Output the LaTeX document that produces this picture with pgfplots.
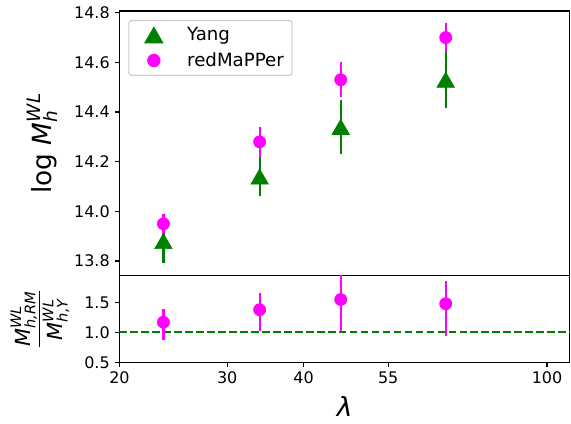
\documentclass[border=0pt]{standalone}
\usepackage{fontspec}
\setmainfont{DejaVu Sans}
\usepackage{amsmath}
\usepackage{pgfplots}
\pgfplotsset{compat=1.18}
\definecolor{mgreen}{HTML}{008000}
\definecolor{mmag}{HTML}{FF00FF}
\newcommand{\mi}[1]{\text{\textit{#1}}}

\pgfplotstableread{
x y e
23.6 13.88 0.09
33.9 14.14 0.08
46.0 14.34 0.11
68.3 14.53 0.115
}\yangtab
\pgfplotstableread{
x y e
23.6 13.95 0.04
33.9 14.28 0.06
46.0 14.53 0.07
68.3 14.70 0.06
}\rmtab
\pgfplotstableread{
x y ep em
23.6 1.17 0.23 0.29
33.9 1.38 0.28 0.35
46.0 1.55 0.45 0.54
68.3 1.48 0.38 0.54
}\ratiotab

\begin{document}
\begin{tikzpicture}
\path[use as bounding box] (-86pt,-106.8pt) rectangle (325.2pt,198.5pt);
\begin{axis}[
  scale only axis, width=324.4pt,
  xmode=log, xmin=20, xmax=109,
  axis line style={line width=0.8pt},
  tick style={line width=0.8pt, black},
  major tick length=3.5pt,
  tick align=outside,
  xminorticks=false, yminorticks=false,
  tick label style={font=\fontsize{11.5}{13}\selectfont},
  /pgf/number format/assume math mode=true,
  yticklabel style={/pgf/number format/.cd, fixed, fixed zerofill, precision=1},
  ytick pos=left,
  name=top, at={(0,0)}, anchor=south west,
  height=190.6pt,
  ymin=13.741, ymax=14.807,
  xtick=\empty,
  ytick={13.8,14,14.2,14.4,14.6,14.8},
  ylabel={log \(\mi{M}^{\mi{WL}}_{\mi{h}}\)},
  every axis y label/.style={at={([xshift=-55.6pt]axis description cs:0,0.5)}, rotate=90, anchor=center, font=\fontsize{19}{22}\selectfont},
  legend style={at={(axis description cs:0.0197,0.966)}, anchor=north west,
    draw=black!20, rounded corners=2pt, line width=0.8pt,
    font=\fontsize{13.1}{15}\selectfont,
    inner xsep=3pt, inner ysep=2pt, row sep=1pt,
    nodes={inner sep=3pt},
    /tikz/every odd column/.append style={column sep=6pt}},
  legend cell align=left,
  legend image code/.code={\path[draw=none, fill=none] (0pt,-7pt) rectangle (30pt,7pt); \draw[#1, only marks] plot coordinates {(15pt,0pt)};},
]
\addplot[only marks, mark=triangle*, mark size=7.3pt, color=mgreen,
  mark options={yshift=-1.8pt},
  error bars/.cd, y dir=both, y explicit, error mark=none,
  error bar style={line width=1.6pt, mgreen}]
  table[x=x, y=y, y error=e] {\yangtab};
\addlegendentry{Yang}
\addplot[only marks, mark=*, mark size=4.4pt, color=mmag,
  error bars/.cd, y dir=both, y explicit, error mark=none,
  error bar style={line width=1.6pt, mmag}]
  table[x=x, y=y, y error=e] {\rmtab};
\addlegendentry{redMaPPer}
\end{axis}
\begin{axis}[
  scale only axis, width=324.4pt,
  xmode=log, xmin=20, xmax=109,
  axis line style={line width=0.8pt},
  tick style={line width=0.8pt, black},
  major tick length=3.5pt,
  tick align=outside,
  xminorticks=false, yminorticks=false,
  tick label style={font=\fontsize{11.5}{13}\selectfont},
  /pgf/number format/assume math mode=true,
  yticklabel style={/pgf/number format/.cd, fixed, fixed zerofill, precision=1},
  ytick pos=left,
  at={(top.south west)}, anchor=north west,
  height=62.4pt,
  ymin=0.5, ymax=1.95,
  ytick={0.5,1,1.5},
  xtick={20,30,40,55,100}, xticklabels={20,30,40,55,100},
  xtick pos=bottom,
  ylabel={\(\dfrac{\mi{M}^{\mi{WL}}_{\mi{h,RM}}}{\mi{M}^{\mi{WL}}_{\mi{h,Y}}}\)},
  every axis y label/.style={at={([xshift=-57.3pt]axis description cs:0,0.5)}, rotate=90, anchor=center, font=\fontsize{15}{17}\selectfont},
  xlabel={\textit{λ}},
  every axis x label/.style={at={([yshift=-32pt]axis description cs:0.5,0)}, anchor=center, font=\fontsize{19}{22}\selectfont},
]
\addplot[mgreen, line width=1.5pt, dash pattern=on 5.5pt off 2.4pt] coordinates {(20,1) (109,1)};
\addplot[only marks, mark=*, mark size=4.4pt, color=mmag,
  error bars/.cd, y dir=both, y explicit, error mark=none,
  error bar style={line width=1.6pt, mmag}]
  table[x=x, y=y, y error plus=ep, y error minus=em] {\ratiotab};
\end{axis}
\end{tikzpicture}
\end{document}
